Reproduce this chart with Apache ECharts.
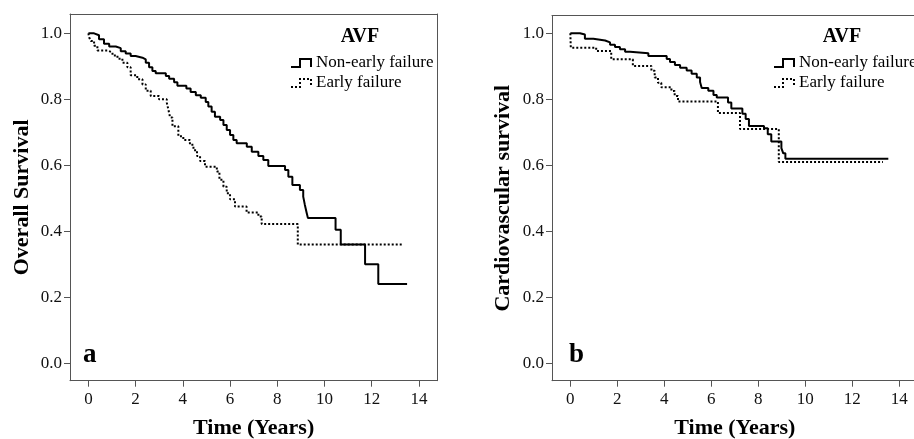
<!DOCTYPE html>
<html>
<head>
<meta charset="utf-8">
<script src="https://cdn.jsdelivr.net/npm/echarts@6/dist/echarts.min.js"></script>
<style>
html,body{margin:0;padding:0;background:#fff;}
#chart{width:914px;height:439px;}
</style>
</head>
<body>
<div id="chart"></div>
<script>
// ---- Data ----
const xTicks = [0, 2, 4, 6, 8, 10, 12, 14];
const yTicks = [0.0, 0.2, 0.4, 0.6, 0.8, 1.0];
const seriesNames = ['Non-early failure', 'Early failure'];
const legendTitle = 'AVF';

// Panel a: Overall Survival
const osNonEarlyTime = [0, 0.24, 0.45, 0.66, 0.88, 1.16, 1.37, 1.58, 1.79, 2.0, 2.29, 2.43, 2.57, 2.71, 2.85, 3.28, 3.42, 3.63, 3.77, 4.15, 4.33, 4.55, 4.76, 4.97, 5.08, 5.22, 5.36, 5.58, 5.72, 5.86, 6.0, 6.14, 6.28, 6.71, 6.92, 7.2, 7.41, 7.62, 8.33, 8.47, 8.64, 8.96, 9.1, 9.17, 9.25, 9.3, 10.47, 10.69, 11.72, 12.28, 13.5];
const osNonEarlySurv = [1.0, 0.994, 0.982, 0.968, 0.96, 0.955, 0.946, 0.939, 0.931, 0.926, 0.921, 0.911, 0.897, 0.886, 0.879, 0.871, 0.862, 0.852, 0.841, 0.833, 0.822, 0.812, 0.805, 0.792, 0.778, 0.762, 0.747, 0.737, 0.722, 0.707, 0.692, 0.677, 0.667, 0.656, 0.641, 0.628, 0.616, 0.598, 0.586, 0.565, 0.54, 0.525, 0.505, 0.48, 0.455, 0.44, 0.405, 0.36, 0.30, 0.24, 0.24];
const osEarlyTime = [0, 0.03, 0.1, 0.24, 0.38, 0.8, 1.02, 1.23, 1.44, 1.65, 1.79, 2.07, 2.29, 2.43, 2.64, 2.99, 3.32, 3.39, 3.46, 3.56, 3.81, 4.02, 4.3, 4.45, 4.6, 4.73, 4.94, 5.44, 5.55, 5.72, 5.86, 6.0, 6.21, 6.7, 7.2, 7.34, 8.87, 13.34];
const osEarlySurv = [1.0, 0.988, 0.977, 0.962, 0.948, 0.942, 0.933, 0.923, 0.911, 0.897, 0.873, 0.861, 0.845, 0.826, 0.81, 0.80, 0.79, 0.768, 0.745, 0.718, 0.688, 0.677, 0.662, 0.646, 0.628, 0.613, 0.596, 0.581, 0.556, 0.535, 0.515, 0.497, 0.475, 0.457, 0.445, 0.422, 0.36, 0.36];

// Panel b: Cardiovascular survival
const cvNonEarlyTime = [0, 0.41, 0.62, 0.98, 1.48, 1.69, 1.9, 2.11, 2.33, 2.54, 3.32, 4.1, 4.24, 4.45, 4.67, 4.95, 5.16, 5.38, 5.52, 5.59, 5.87, 6.09, 6.23, 6.71, 6.85, 7.32, 7.46, 7.6, 8.24, 8.4, 8.55, 8.98, 9.06, 9.15, 13.53];
const cvNonEarlySurv = [1.0, 0.996, 0.983, 0.978, 0.972, 0.965, 0.958, 0.951, 0.944, 0.939, 0.931, 0.922, 0.913, 0.904, 0.895, 0.887, 0.877, 0.866, 0.852, 0.834, 0.826, 0.813, 0.805, 0.79, 0.772, 0.756, 0.74, 0.719, 0.712, 0.694, 0.672, 0.652, 0.636, 0.62, 0.62];
const cvEarlyTime = [0, 0.02, 1.1, 1.74, 2.66, 3.45, 3.59, 3.73, 3.87, 4.3, 4.44, 4.58, 6.28, 7.22, 8.87, 13.3];
const cvEarlySurv = [1.0, 0.956, 0.946, 0.921, 0.901, 0.886, 0.866, 0.85, 0.836, 0.825, 0.81, 0.793, 0.758, 0.71, 0.61, 0.61];

// ---- Build chart ----
const zip = (t, s) => t.map((v, i) => [v, s[i]]);
const SERIF = "'Liberation Serif','Times New Roman',serif";
const AXIS_COLOR = '#555';
const X_MIN = -0.78, X_MAX = 14.78, Y_MIN = -0.0527;

function makeGrid(left, top, width, height) {
  return { left, top, width, height, show: false, containLabel: false, outerBoundsMode: 'none' };
}
function makeX(gridIndex) {
  return {
    type: 'value', gridIndex, min: X_MIN, max: X_MAX,
    name: 'Time (Years)', nameLocation: 'middle', nameGap: 37,
    nameTextStyle: { fontFamily: SERIF, fontSize: 22, fontWeight: 'bold', color: '#000' },
    axisLine: { show: true, onZero: false, lineStyle: { color: AXIS_COLOR, width: 1 } },
    axisTick: { show: true, length: 6, customValues: xTicks, lineStyle: { color: AXIS_COLOR } },
    axisLabel: { customValues: xTicks, fontFamily: SERIF, fontSize: 17, color: '#111', margin: 10 },
    splitLine: { show: false }
  };
}
function makeY(gridIndex, max, name, gap) {
  return {
    type: 'value', gridIndex, min: Y_MIN, max,
    name, nameLocation: 'middle', nameGap: gap,
    nameTextStyle: { fontFamily: SERIF, fontSize: 22, fontWeight: 'bold', color: '#000' },
    axisLine: { show: true, onZero: false, lineStyle: { color: AXIS_COLOR, width: 1 } },
    axisTick: { show: true, length: 6, customValues: yTicks, lineStyle: { color: AXIS_COLOR } },
    axisLabel: { customValues: yTicks, fontFamily: SERIF, fontSize: 17, color: '#111', margin: 8,
                 formatter: v => Number(v).toFixed(1) },
    splitLine: { show: false }
  };
}
// frame-only axes (top / right border of the plot box)
function frameAxis(gridIndex, position, min, max) {
  return {
    type: 'value', gridIndex, position, min, max,
    axisLine: { show: true, onZero: false, lineStyle: { color: AXIS_COLOR, width: 1 } },
    axisTick: { show: false }, axisLabel: { show: false }, splitLine: { show: false }
  };
}
function makeLine(name, data, idx, dotted) {
  return {
    type: 'line', name, data, xAxisIndex: idx, yAxisIndex: idx,
    step: 'end', showSymbol: false, symbol: 'none', silent: true, clip: true,
    lineStyle: { color: '#000', width: 2, type: dotted ? [2, 2] : 'solid' },
    itemStyle: { color: '#000' }
  };
}
const stepIcon = 'path://M0,8 L9,8 L9,0 L20,0 L20,8';
function makeLegend(left) {
  return {
    left, top: 53, orient: 'vertical', padding: 0, itemGap: 0,
    itemWidth: 20, itemHeight: 8, selectedMode: false,
    textStyle: { fontFamily: SERIF, fontSize: 17, color: '#000', lineHeight: 20 },
    data: [
      { name: seriesNames[0], icon: stepIcon,
        itemStyle: { color: 'rgba(0,0,0,0)', borderColor: '#000', borderWidth: 2, borderType: 'solid' } },
      { name: seriesNames[1], icon: stepIcon,
        itemStyle: { color: 'rgba(0,0,0,0)', borderColor: '#000', borderWidth: 2, borderType: [2, 2] } }
    ]
  };
}

const option = {
  animation: false,
  backgroundColor: '#fff',
  grid: [makeGrid(70, 14, 367.3, 366.7), makeGrid(552, 15.7, 365.7, 365)],
  xAxis: [makeX(0), makeX(1), frameAxis(0, 'top', X_MIN, X_MAX), frameAxis(1, 'top', X_MIN, X_MAX)],
  yAxis: [makeY(0, 1.0585, 'Overall Survival', 36.5), makeY(1, 1.053, 'Cardiovascular survival', 38),
          frameAxis(0, 'right', Y_MIN, 1.0585)],
  legend: [makeLegend(290), makeLegend(773)],
  series: [
    makeLine(seriesNames[0], zip(osNonEarlyTime, osNonEarlySurv), 0, false),
    makeLine(seriesNames[1], zip(osEarlyTime, osEarlySurv), 0, true),
    makeLine(seriesNames[0], zip(cvNonEarlyTime, cvNonEarlySurv), 1, false),
    makeLine(seriesNames[1], zip(cvEarlyTime, cvEarlySurv), 1, true)
  ],
  graphic: [
    { type: 'text', x: 360, y: 37, silent: true,
      style: { text: legendTitle, align: 'center', verticalAlign: 'middle',
               font: "bold 20px " + SERIF, fill: '#000' } },
    { type: 'text', x: 842, y: 37, silent: true,
      style: { text: legendTitle, align: 'center', verticalAlign: 'middle',
               font: "bold 20px " + SERIF, fill: '#000' } },
    { type: 'text', x: 83, y: 355, silent: true,
      style: { text: 'a', align: 'left', verticalAlign: 'middle',
               font: "bold 27px " + SERIF, fill: '#000' } },
    { type: 'text', x: 569, y: 355, silent: true,
      style: { text: 'b', align: 'left', verticalAlign: 'middle',
               font: "bold 27px " + SERIF, fill: '#000' } }
  ]
};

const chart = echarts.init(document.getElementById('chart'), null, { renderer: 'canvas' });
chart.setOption(option);
</script>
</body>
</html>
